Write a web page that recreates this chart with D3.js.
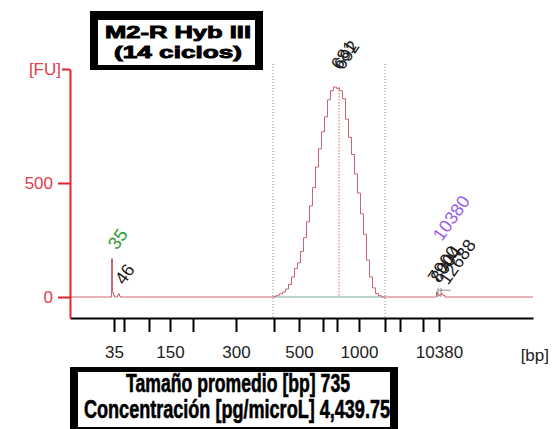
<!DOCTYPE html>
<html>
<head>
<meta charset="utf-8">
<script src="https://cdn.jsdelivr.net/npm/d3@7"></script>
<style>
  html, body { margin: 0; padding: 0; background: #fff; }
  svg { display: block; }
</style>
</head>
<body>
<svg id="chart" width="553" height="429"></svg>
<script>
// Ladder sizes (bp) and their migration times (s)
const ladderSizes = [35, 50, 100, 150, 200, 300, 400, 500, 600, 700, 1000, 2000, 3000, 7000, 10380];
const ladderTimes = [42.8, 44.8, 49.8, 54.0, 58.6, 67.2, 74.8, 79.8, 84.6, 87.4, 91.8, 97.0, 100.0, 104.6, 107.8];
const ladderLabelsShown = [35, 150, 300, 500, 1000, 10380];

// Fluorescence trace: time (s) and signal (FU)
const traceTime = [
  34.0, 41.8, 42.2, 42.4, 42.6, 42.8, 43.0, 43.4, 43.6, 43.8, 44.0, 44.2,
  74.4, 75.0, 75.6, 76.2, 76.8, 77.4, 78.0, 78.6, 79.2, 79.8, 80.4, 81.0,
  81.6, 82.2, 82.8, 83.4, 84.0, 84.6, 85.2, 85.8, 86.4, 87.0, 87.6, 88.2,
  88.8, 89.4, 90.0, 90.6, 91.2, 91.8, 92.4, 93.0, 93.6, 94.2, 94.8, 95.4,
  96.0, 96.6, 107.0, 107.2, 107.4, 107.6, 107.8, 108.0, 108.4, 108.8, 109.2, 126.6
];
const traceFU = [
  0, 0, 0, 168, 20, 8, 0, 0, 8, 14, 4, 0,
  0, 3, 8, 14, 22, 35, 55, 88, 125, 150, 200, 260,
  330, 400, 480, 570, 650, 725, 790, 865, 905, 921, 915, 905,
  870, 780, 700, 625, 540, 456, 365, 275, 162, 88, 40, 15,
  6, 0, 0, 0, 22, 10, 6, 10, 14, 6, 0, 0
];

// Region of the smear analysis (s) and the main peak position
const regionTimes = [74.6, 97.0];
const mainPeakTime = 87.8;
const mainPeakFU = 921;

// Peak size labels
const peakLabels = ["35", "46", "681", "692", "7900", "8004", "10380", "12688"];
const peakLabelTimes = [42.4, 43.8, 87.0, 87.6, 106.4, 106.9, 107.4, 108.6];
const peakLabelFU = [168, 14, 921, 921, 22, 22, 22, 14];
const peakLabelKinds = ["lower", "peak", "main", "main", "peak", "peak", "upper", "peak"];

// Y ticks
const yTickValues = [0, 500, 1000];
const yTickLabels = ["0", "500", "[FU]"];

// Summary
const titleLines = ["M2-R Hyb III", "(14 ciclos)"];
const summaryLines = ["Tamaño promedio [bp] 735", "Concentración [pg/microL] 4,439.75"];

const svg = d3.select("#chart");
const RED = "#e3202c";
const LABEL_RED = "#e0404e";

const x = d3.scaleLinear().domain([34, 126.6]).range([70, 533]);
const y = d3.scaleLinear().domain([-92, 1000]).range([318, 69]);

// Region markers (dotted)
svg.append("g").selectAll("line").data(regionTimes).join("line")
  .attr("x1", d => x(d)).attr("x2", d => x(d))
  .attr("y1", 64).attr("y2", 318)
  .attr("stroke", "#8a8a8a").attr("stroke-width", 1)
  .attr("stroke-dasharray", "1,2");

// Baseline under the smear region
svg.append("line")
  .attr("x1", x(regionTimes[0])).attr("x2", x(regionTimes[1]))
  .attr("y1", y(0)).attr("y2", y(0))
  .attr("stroke", "#7fa9a3").attr("stroke-width", 1.2);

// Main peak marker line
svg.append("line")
  .attr("x1", x(mainPeakTime)).attr("x2", x(mainPeakTime))
  .attr("y1", y(mainPeakFU)).attr("y2", y(0))
  .attr("stroke", "#c87070").attr("stroke-width", 1)
  .attr("stroke-dasharray", "1.5,1.5");

// Trace
const pts = traceTime.map((t, i) => [t, traceFU[i]]);
svg.append("path")
  .datum(pts)
  .attr("fill", "none")
  .attr("stroke", "#cc6470")
  .attr("stroke-width", 1)
  .attr("d", d3.line().x(d => x(d[0])).y(d => y(d[1])).curve(d3.curveStep));

// Upper marker integration lines
const um = ladderTimes[ladderTimes.length - 1];
svg.append("path")
  .attr("d", `M${x(um - 0.2)},${y(0)}V${y(40)}M${x(um + 0.4)},${y(0)}V${y(40)}M${x(um - 0.2)},${y(30)}H${x(um + 2.4)}`)
  .attr("stroke", "#777").attr("stroke-width", 0.8).attr("fill", "none");

// Axes
const xAxis = d3.axisBottom(x)
  .tickValues(ladderTimes)
  .tickSize(14)
  .tickSizeOuter(0)
  .tickFormat((d, i) => ladderLabelsShown.includes(ladderSizes[i]) ? String(ladderSizes[i]) : "");
const gx = svg.append("g").attr("transform", "translate(0,318)").call(xAxis);
gx.select(".domain").attr("stroke", "#000").attr("stroke-width", 2);
gx.selectAll(".tick line").attr("stroke", "#000").attr("stroke-width", 2);
gx.selectAll(".tick text")
  .attr("y", 28).attr("dy", "0.71em")
  .attr("fill", "#222")
  .style("font-family", "'Liberation Sans', Arial, sans-serif")
  .style("font-size", "17px");

svg.append("text")
  .attr("x", 549).attr("y", 361)
  .attr("text-anchor", "end")
  .attr("fill", "#222")
  .style("font-family", "'Liberation Sans', Arial, sans-serif")
  .style("font-size", "17px")
  .text("[bp]");

const yAxis = d3.axisLeft(y)
  .tickValues(yTickValues)
  .tickSize(12)
  .tickSizeOuter(0)
  .tickFormat((d, i) => yTickLabels[i]);
const gy = svg.append("g").attr("transform", "translate(70,0)").call(yAxis);
gy.select(".domain").attr("stroke", RED).attr("stroke-width", 2);
gy.selectAll(".tick line").attr("stroke", RED).attr("stroke-width", 2)
  .attr("x2", d => d === 1000 ? -8 : -12);
gy.selectAll(".tick text")
  .attr("x", d => d === 1000 ? -9 : -17)
  .attr("fill", LABEL_RED)
  .style("font-family", "'Liberation Sans', Arial, sans-serif")
  .style("font-size", "17px");

// Peak labels (rotated)
const labelColor = k => k === "lower" ? "#2e9a36" : k === "upper" ? "#9a5ee6" : "#1a1a1a";
const labelLift = k => k === "upper" ? 50 : k === "main" ? 16 : 8;
svg.append("g").selectAll("text").data(peakLabels).join("text")
  .attr("transform", (d, i) => {
    const px = x(peakLabelTimes[i]) + 5;
    const py = y(peakLabelFU[i]) - labelLift(peakLabelKinds[i]);
    return `translate(${px},${py}) rotate(-55)`;
  })
  .attr("fill", (d, i) => labelColor(peakLabelKinds[i]))
  .style("font-family", "'Liberation Sans', Arial, sans-serif")
  .style("font-size", "18px")
  .text(d => d);

// Framed text boxes
function framedBox(x0, y0, x1, y1, bl, bt, br, bb) {
  const g = svg.append("g");
  g.append("rect").attr("x", x0).attr("y", y0).attr("width", x1 - x0).attr("height", y1 - y0).attr("fill", "#fff");
  return {
    g,
    frame() {
      const f = svg.append("g").attr("fill", "#000");
      f.append("rect").attr("x", x0).attr("y", y0).attr("width", x1 - x0).attr("height", bt);
      f.append("rect").attr("x", x0).attr("y", y1 - bb).attr("width", x1 - x0).attr("height", bb);
      f.append("rect").attr("x", x0).attr("y", y0).attr("width", bl).attr("height", y1 - y0);
      f.append("rect").attr("x", x1 - br).attr("y", y0).attr("width", br).attr("height", y1 - y0);
    }
  };
}

const tb = framedBox(90, 11, 263, 70, 8, 9, 8, 5);
tb.g.selectAll("text").data(titleLines).join("text")
  .attr("x", 178).attr("y", (d, i) => i === 0 ? 38 : 58)
  .attr("text-anchor", "middle")
  .attr("textLength", (d, i) => i === 0 ? 146 : 128)
  .attr("lengthAdjust", "spacingAndGlyphs")
  .attr("fill", "#000").attr("stroke", "#000").attr("stroke-width", 0.9)
  .style("font-family", "'Liberation Sans', Arial, sans-serif")
  .style("font-weight", "bold")
  .style("font-size", "17px")
  .text(d => d);
tb.frame();

const sb = framedBox(70, 367, 398, 429, 8, 5, 8, 2);
sb.g.selectAll("text").data(summaryLines).join("text")
  .attr("x", (d, i) => i === 0 ? 238 : 237).attr("y", (d, i) => i === 0 ? 392 : 418)
  .attr("text-anchor", "middle")
  .attr("textLength", (d, i) => i === 0 ? 224 : 306)
  .attr("lengthAdjust", "spacingAndGlyphs")
  .attr("fill", "#000").attr("stroke", "#000").attr("stroke-width", 0.6)
  .style("font-family", "'Liberation Sans Narrow', 'Liberation Sans', Arial, sans-serif")
  .style("font-weight", "bold")
  .style("font-size", "25px")
  .text(d => d);
sb.frame();
</script>
</body>
</html>
